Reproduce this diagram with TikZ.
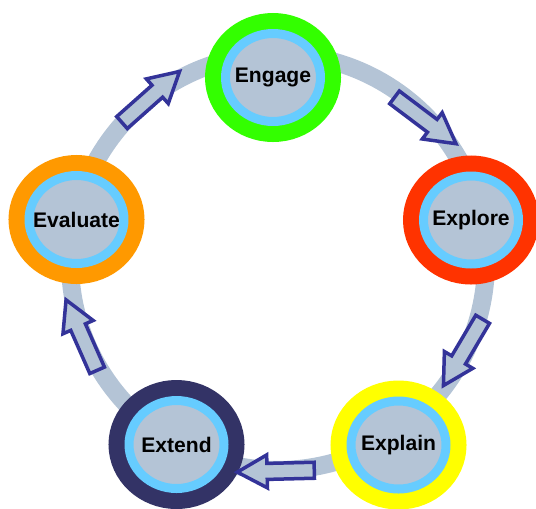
\documentclass[tikz,border=0pt]{standalone}
\usepackage{fontspec}
\setmainfont{Liberation Sans}
\usepackage{tikz}
\usetikzlibrary{shapes.geometric,shapes.arrows}
\definecolor{track}{RGB}{180,196,214}
\definecolor{rim}{RGB}{102,204,255}
\definecolor{outline}{RGB}{51,51,153}
\definecolor{engagecol}{RGB}{51,255,0}
\definecolor{explorecol}{RGB}{255,51,0}
\definecolor{explaincol}{RGB}{255,255,0}
\definecolor{extendcol}{RGB}{51,51,102}
\definecolor{evaluatecol}{RGB}{255,153,0}

\begin{document}
\begin{tikzpicture}[
  x = 0.02cm,
  y = -0.02cm,
  stage/.style = {
    ellipse,
    inner sep = 0pt,
    minimum width = 1.9cm,
    minimum height = 1.76cm,
    fill = track,
    draw = rim,
    line width = 0.18cm,
    preaction = {draw = #1, line width = 0.82cm},
  },
  caption/.style = {
    font = \fontsize{12}{14.4}\selectfont\bfseries,
    text = black,
  },
  ring/.style = {
    draw = track,
    line width = 0.36cm,
  },
  flow/.style = {
    single arrow,
    draw = outline,
    fill = track,
    line width = 0.07cm,
    inner xsep = 0pt,
    inner ysep = 0.125cm,
    minimum height = 1.54cm,
    single arrow head extend = 0.17cm,
    single arrow tip angle = 58,
  },
]

  \useasboundingbox (0,0) rectangle (536,508);

  \coordinate (hub) at (278,262);
  \draw[ring] (hub) circle[radius=4.16cm];

  \node[stage=engagecol,   label={[caption]center:Engage}]   (engage)   at (273,77.5)  {};
  \node[stage=explorecol,  label={[caption]center:Explore}]  (explore)  at (471,220)   {};
  \node[stage=explaincol,  label={[caption]center:Explain}]  (explain)  at (398.5,445) {};
  \node[stage=extendcol,   label={[caption]center:Extend}]   (extend)   at (176.5,444.5) {};
  \node[stage=evaluatecol, label={[caption]center:Evaluate}] (evaluate) at (76.5,219.5) {};

  \node[flow, rotate=41.6]   (f0) at (145.4,101.8) {};
  \node[flow, rotate=-37]    (f1) at (419.5,116.2) {};
  \node[flow, rotate=-120.6] (f2) at (466.7,346.2) {};
  \node[flow, rotate=181.4]  (f3) at (283,471)     {};
  \node[flow, rotate=113.8]  (f4) at (84.5,341.7)  {};

\end{tikzpicture}
\end{document}
